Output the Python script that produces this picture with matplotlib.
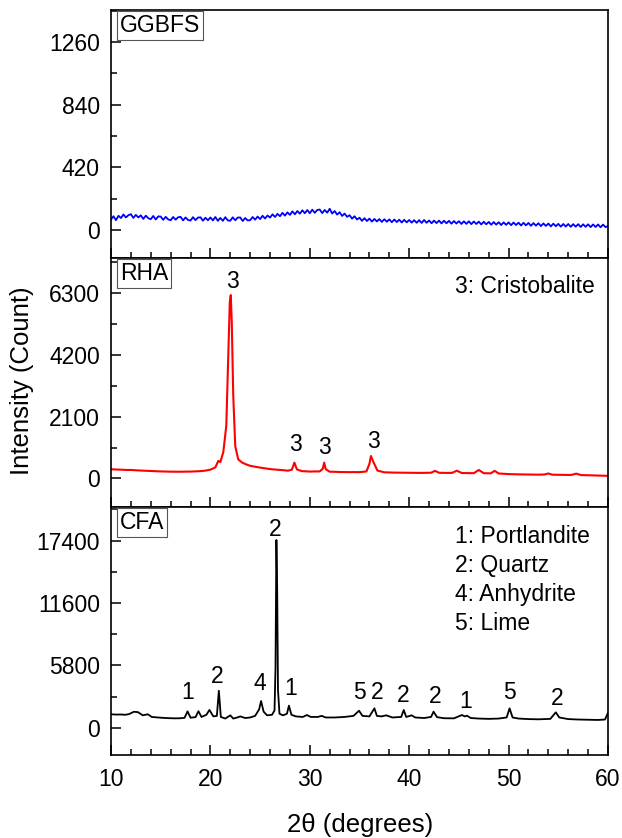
import matplotlib
matplotlib.use("Agg")
import matplotlib.pyplot as plt
from matplotlib.ticker import MultipleLocator
import numpy as np

plt.rcParams['font.family'] = ['Liberation Sans', 'DejaVu Sans']

# ---------------- data ----------------
ggbfs_x = np.arange(10, 60.001, 0.25)
ggbfs_y = [
    70, 92, 66, 95,
    80, 104, 84, 99,
    106, 81, 101, 84,
    98, 74, 96, 79,
    72, 94, 70, 91,
    90, 68, 88, 71,
    65, 87, 69, 85,
    88, 64, 84, 67,
    63, 86, 66, 83,
    85, 62, 82, 65,
    84, 64, 87, 61,
    81, 61, 86, 64,
    62, 85, 65, 83,
    84, 60, 80, 64,
    66, 87, 69, 90,
    73, 95, 77, 97,
    83, 105, 87, 108,
    92, 115, 96, 118,
    101, 125, 105, 127,
    109, 132, 112, 134,
    112, 136, 115, 134,
    137, 113, 134, 116,
    142, 110, 127, 103,
    119, 94, 110, 88,
    99, 76, 92, 70,
    82, 61, 79, 60,
    76, 56, 74, 57,
    73, 54, 72, 55,
    71, 52, 70, 53,
    69, 50, 68, 51,
    67, 49, 66, 48,
    66, 47, 67, 48,
    64, 45, 63, 46,
    63, 44, 62, 45,
    61, 42, 60, 43,
    59, 40, 58, 41,
    58, 39, 57, 40,
    56, 37, 55, 38,
    54, 35, 53, 36,
    52, 33, 51, 34,
    51, 32, 50, 33,
    49, 30, 48, 31,
    47, 28, 46, 29,
    45, 26, 44, 27,
    43, 24, 42, 25,
    41, 22, 40, 23,
    40, 21, 39, 22,
    39, 20, 38, 21,
    38, 19, 37, 20,
    37, 18, 36, 19,
    27,
]

rha_x = [10, 10.5, 11, 11.5, 12, 12.5, 13, 13.5, 14, 14.5, 15, 15.5, 16, 16.5, 17, 17.5,
         18, 18.5, 19, 19.5, 20, 20.5, 20.8, 21.0, 21.3, 21.6, 21.8, 21.95, 22.05, 22.15,
         22.3, 22.5, 22.8, 23.2, 23.6, 24, 24.5, 25, 25.5, 26, 26.5, 27, 27.4, 27.8, 28.2,
         28.45, 28.7, 29.2, 29.6, 30, 30.5, 31.0, 31.3, 31.45, 31.6, 32.0, 32.5, 33, 33.5,
         34, 34.5, 35, 35.7, 36.0, 36.15, 36.4, 36.8, 37.5, 38, 38.5, 39, 39.5, 40, 40.5,
         41, 41.5, 42.2, 42.6, 43, 43.6, 44.3, 44.8, 45.3, 45.9, 46.5, 47.0, 47.5, 48.2,
         48.6, 49.0, 49.5, 50, 50.5, 51, 51.5, 52, 52.5, 53, 53.6, 54.0, 54.4, 55, 55.6,
         56.3, 56.8, 57.3, 58, 58.5, 59, 59.5, 60]
rha_y = [315, 305, 300, 290, 290, 280, 270, 262, 255, 248, 240, 236, 232, 230, 230, 233,
         235, 242, 250, 268, 300, 380, 600, 560, 900, 1800, 4200, 6000, 6240, 5300,
         2800, 1100, 650, 540, 480, 430, 400, 370, 345, 320, 305, 290, 280, 265, 300,
         540, 310, 250, 245, 235, 240, 240, 330, 540, 320, 230, 228, 220, 218,
         215, 218, 215, 240, 500, 765, 560, 270, 210, 205, 200, 198, 196, 195, 192,
         190, 192, 195, 260, 195, 190, 190, 265, 185, 183, 180, 290, 180, 175,
         260, 170, 160, 150, 145, 140, 138, 135, 133, 130, 135, 170, 130, 125, 122,
         120, 165, 115, 110, 105, 100, 95, 90]

cfa_x = [10, 10.5, 11, 11.4, 11.8, 12.3, 12.7, 13.2, 13.7, 14.1, 14.6, 15, 15.5, 16, 16.5,
         17, 17.4, 17.7, 18.0, 18.5, 18.8, 19.1, 19.6, 19.9, 20.3, 20.65, 20.85, 21.05,
         21.5, 22.0, 22.3, 22.7, 23.0, 23.5, 24.0, 24.5, 24.9, 25.1, 25.35, 25.7, 26.2,
         26.45, 26.55, 26.64, 26.72, 26.8, 26.95, 27.3, 27.7, 27.9, 28.15, 28.6, 29.3,
         29.7, 30.1, 30.8, 31.2, 31.6, 32.5, 33.5, 34.4, 34.95, 35.3, 36.0, 36.5, 36.75,
         37.2, 37.7, 38.3, 39.2, 39.45, 39.7, 40.25, 40.6, 41.5, 42.2, 42.45, 42.8, 43.5,
         44.5, 45.1, 45.3, 45.6, 45.8, 46.2, 47, 48, 49.0, 49.8, 50.1, 50.4, 51, 52, 53,
         54.2, 54.75, 55.1, 56, 57, 58, 59, 59.7, 60]
cfa_y = [1250, 1220, 1230, 1200, 1260, 1480, 1450, 1150, 1250, 1000, 960, 930, 900, 880, 870,
         880, 920, 1520, 930, 980, 1530, 1000, 1200, 1650, 1050, 1100, 3440, 1000,
         850, 1150, 850, 950, 1050, 900, 950, 1100, 1700, 2480, 1500, 1150, 1200,
         1600, 5600, 17460, 12800, 3500, 1300, 1150, 1300, 2050, 1200, 1050, 1000,
         1180, 1000, 1000, 1100, 950, 950, 1000, 1100, 1580, 1100, 1050, 1800, 1100,
         1050, 1150, 950, 1000, 1650, 1000, 1150, 950, 900, 1000, 1490, 980, 880,
         870, 1100, 1180, 1050, 1120, 900, 850, 820, 850, 950, 1800, 950, 850, 800, 780,
         820, 1430, 950, 800, 760, 740, 720, 760, 1400]

rha_labels_x = [22.2, 28.6, 31.5, 36.4]
rha_labels_y = [6690, 1160, 1050, 1270]
rha_labels = ['3', '3', '3', '3']

cfa_labels_x = [17.7, 20.7, 25.0, 26.5, 28.1, 34.95, 36.8, 39.4, 42.6, 45.7, 50.1, 54.9]
cfa_labels_y = [3230, 4720, 4070, 18400, 3690, 3230, 3320, 3040, 2860, 2480, 3230, 2670]
cfa_labels = ['1', '2', '4', '2', '1', '5', '2', '2', '2', '1', '5', '2']

panel_names = ['GGBFS', 'RHA', 'CFA']
panel_colors = ['#0000ff', '#ff0000', '#000000']
yticks_major = [[0, 420, 840, 1260], [0, 2100, 4200, 6300], [0, 5800, 11600, 17400]]
yminor_step = [210, 1050, 2900]
ylims = [(-188, 1475), (-970, 7500), (-2540, 20530)]
xticks_major = [10, 20, 30, 40, 50, 60]

rha_legend = ['3: Cristobalite']
cfa_legend = ['1: Portlandite', '2: Quartz', '4: Anhydrite', '5: Lime']

# ---------------- figure ----------------
W, H = 622, 838
fig = plt.figure(figsize=(W / 100, H / 100), dpi=100)
fig.patch.set_facecolor('white')

left = 111 / W
width = (608 - 111) / W
bounds = [(10, 258), (258, 507), (507, 755)]
axes = []
for (top, bot) in bounds:
    ax = fig.add_axes([left, 1 - bot / H, width, (bot - top) / H])
    axes.append(ax)

series = [(ggbfs_x, ggbfs_y), (rha_x, rha_y), (cfa_x, cfa_y)]
lws = [1.3, 1.5, 1.3]
for i, ax in enumerate(axes):
    x, y = series[i]
    ax.plot(x, y, color=panel_colors[i], lw=lws[i])
    ax.set_xlim(10, 60)
    ax.set_ylim(*ylims[i])
    ax.set_yticks(yticks_major[i])
    ax.yaxis.set_minor_locator(MultipleLocator(yminor_step[i]))
    ax.set_xticks(xticks_major)
    ax.xaxis.set_minor_locator(MultipleLocator(2))
    ax.tick_params(axis='both', which='both', direction='in', top=False, right=False,
                   width=1.1, labelsize=16.5)
    ax.tick_params(axis='both', which='major', length=7)
    ax.tick_params(axis='both', which='minor', length=4)
    ax.tick_params(axis='y', pad=8)
    ax.tick_params(axis='x', pad=9)
    for s in ax.spines.values():
        s.set_linewidth(1.2)
    if i < 2:
        ax.tick_params(axis='x', labelbottom=False)
    ax.text(0.018, 0.938, panel_names[i], transform=ax.transAxes, fontsize=16.5,
            ha='left', va='center',
            bbox=dict(boxstyle='square,pad=0.12', fc='white', ec='#555555', lw=0.8))

for xx, yy, t in zip(rha_labels_x, rha_labels_y, rha_labels):
    axes[1].text(xx, yy, t, fontsize=16.5, ha='center', va='center')
for xx, yy, t in zip(cfa_labels_x, cfa_labels_y, cfa_labels):
    axes[2].text(xx, yy, t, fontsize=16.5, ha='center', va='center')

axes[1].text(0.692, 0.885, rha_legend[0], transform=axes[1].transAxes, fontsize=16.5,
             ha='left', va='center')
for k, t in enumerate(cfa_legend):
    axes[2].text(0.692, 0.880 - k * 0.116, t, transform=axes[2].transAxes, fontsize=16.5,
                 ha='left', va='center')

fig.text(22 / W, 1 - 381 / H, 'Intensity (Count)', rotation=90, fontsize=18.5,
         ha='center', va='center')
fig.text(360 / W, 1 - 825 / H, '2θ (degrees)', fontsize=18.5, ha='center', va='center')

fig.savefig('out.png', dpi=100, facecolor='white')
